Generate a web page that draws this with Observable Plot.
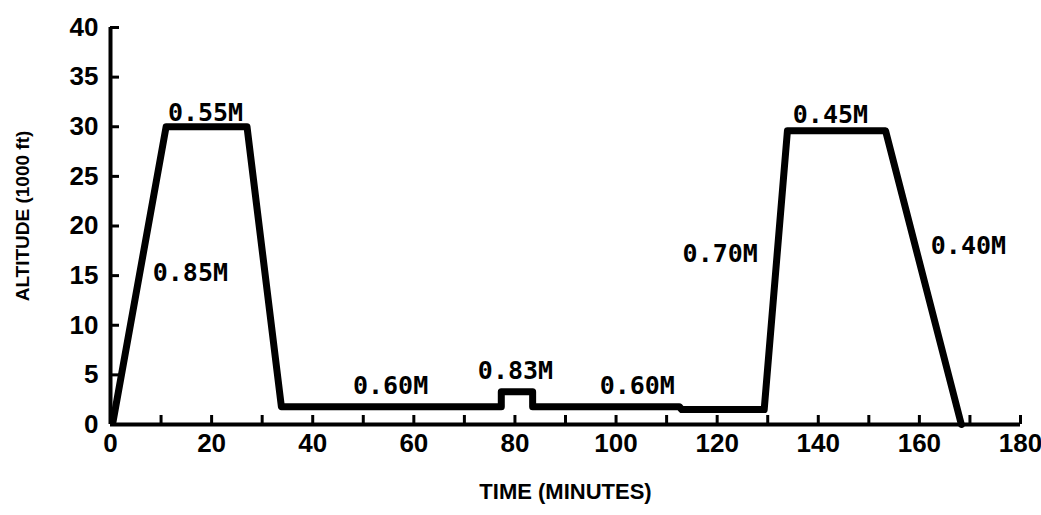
<!DOCTYPE html>
<html>
<head>
<meta charset="utf-8">
<script src="https://cdn.jsdelivr.net/npm/d3@7"></script>
<script src="https://cdn.jsdelivr.net/npm/@observablehq/plot@0.6"></script>
<style>
  html, body { margin: 0; padding: 0; background: #fff; }
  #chart svg { display: block; }
</style>
</head>
<body>
<div id="chart"></div>
<script>
// Flight profile (time in minutes, altitude in 1000 ft)
const profileTime = [0.5, 11, 27, 33.8, 77.3, 77.3, 83.5, 83.5, 112.5, 113, 129.3, 133.9, 153.3, 168.3];
const profileAlt  = [0.3, 30, 30, 1.8, 1.8, 3.3, 3.3, 1.8, 1.8, 1.5, 1.5, 29.6, 29.6, 0];

// Mach-number annotations
const labelText = ["0.55M", "0.85M", "0.60M", "0.83M", "0.60M", "0.70M", "0.45M", "0.40M"];
const labelTime = [18.8, 15.8, 55.4, 80.1, 104.2, 120.6, 142.4, 169.7];
const labelAlt  = [31.4, 15.3, 3.9, 5.4, 3.9, 17.2, 31.2, 18.0];

// Axes
const xTickLabels = [0, 20, 40, 60, 80, 100, 120, 140, 160, 180];
const xTickMarks  = [10, 20, 30, 40, 50, 60, 70, 80, 90, 100, 110, 120, 130, 140, 150, 160, 170, 180];
const yTickLabels = [0, 5, 10, 15, 20, 25, 30, 35, 40];
const xTitle = "TIME (MINUTES)";
const yTitle = "ALTITUDE (1000 ft)";

const profile = profileTime.map((t, i) => ({time: t, alt: profileAlt[i]}));
const labels = labelText.map((s, i) => ({text: s, time: labelTime[i], alt: labelAlt[i]}));

const sansFont = "'Liberation Sans', Arial, sans-serif";
const monoFont = "'DejaVu Sans Mono', monospace";

const chart = Plot.plot({
  width: 1041,
  height: 515,
  marginLeft: 110,
  marginRight: 21,
  marginTop: 27,
  marginBottom: 91,
  style: {background: "#fff", color: "#000", fontFamily: sansFont},
  x: {domain: [0, 180]},
  y: {domain: [0, 40]},
  marks: [
    Plot.ruleY([0], {stroke: "#000", strokeWidth: 4}),
    Plot.ruleX([0], {stroke: "#000", strokeWidth: 4}),
    Plot.axisX({ticks: xTickMarks, tickSize: -9, strokeWidth: 3, tickFormat: () => "", label: null}),
    Plot.axisX({ticks: xTickLabels, tickSize: 0, tickPadding: 9, fontSize: 26, fontWeight: "bold", fontFamily: sansFont, label: null}),
    Plot.axisY({ticks: yTickLabels, tickSize: -9, strokeWidth: 3, tickPadding: 21, fontSize: 26, fontWeight: "bold", fontFamily: sansFont, label: null}),
    Plot.line(profile, {x: "time", y: "alt", stroke: "#000", strokeWidth: 7, strokeLinejoin: "round", strokeLinecap: "round"}),
    Plot.text(labels, {x: "time", y: "alt", text: "text", fontSize: 25, fontWeight: "bold", fontFamily: monoFont, fill: "#000"}),
    Plot.text([xTitle], {frameAnchor: "bottom", textAnchor: "middle", dy: 74, fontSize: 22, fontWeight: "bold", fontFamily: sansFont, fill: "#000"}),
    Plot.text([yTitle], {frameAnchor: "left", textAnchor: "middle", dx: -88, dy: -10, rotate: -90, fontSize: 19, fontWeight: "bold", fontFamily: sansFont, fill: "#000"})
  ]
});
document.getElementById("chart").appendChild(chart);
</script>
</body>
</html>
